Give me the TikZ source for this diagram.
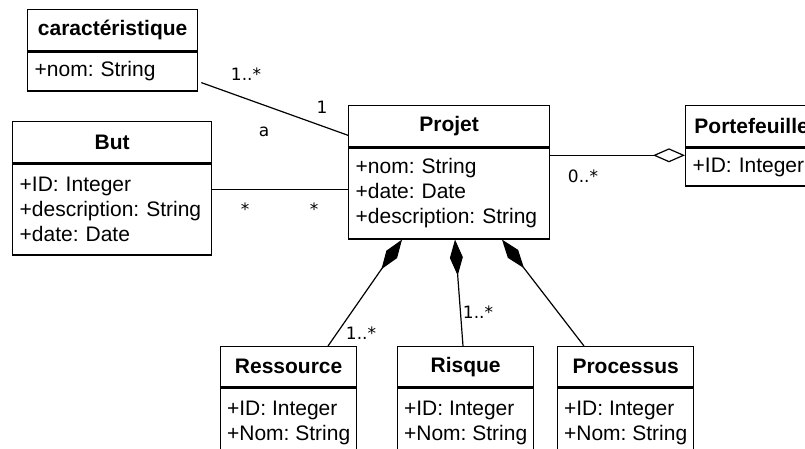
\documentclass[tikz,border=0pt]{standalone}
\usepackage{fontspec}
\setmainfont{Liberation Sans}
\newfontfamily\multfamily{DejaVu Sans}
\usetikzlibrary{arrows.meta,calc}
\frenchspacing
\newcommand{\attrfont}{\fontsize{21}{25}\selectfont\frenchspacing}
\newcommand{\headfont}{\bfseries\fontsize{21}{25}\selectfont}
\newcommand{\multfont}{\multfamily\fontsize{17}{20}\selectfont}

\begin{document}
\begin{tikzpicture}[x=1pt,y=-1pt,
	umlhead/.style={draw, line width=1.3pt, font=\headfont, inner sep=0pt, minimum height=41pt, anchor=north west},
	umlbody/.style={draw, line width=1.3pt, font=\attrfont, align=left, inner xsep=7pt, inner ysep=0pt, anchor=north west},
	smallbody/.style={umlbody, inner xsep=0pt, minimum width=136pt, minimum height=69pt},
	mult/.style={font=\multfont, inner sep=0pt},
	link/.style={line width=1.2pt},
	compo/.style={link, -{Diamond[length=36pt,width=13pt]}},
	aggreg/.style={link, -{Diamond[open,length=32pt,width=14pt]}}]
		\useasboundingbox (0,0) rectangle (805,448);
		\clip (0,0) rectangle (805,448);
		
		% classes
		\node[umlhead, minimum width=170pt] (carac) at (27,9) {caractéristique};
		\node[umlbody, text width=156pt, minimum height=39pt] (caracA) at (carac.south west) {+nom: String};
		
		\node[umlhead, minimum width=199pt] (but) at (12,121) {But};
		\node[umlbody, text width=185pt, minimum height=91pt] (butA) at (but.south west)
		{+ID: Integer\\+description: String\\+date: Date};
		
		\node[umlhead, minimum width=201pt] (projet) at (348,105) {Projet};
		\node[umlbody, text width=187pt, minimum height=91pt] (projetA) at (projet.south west)
		{+nom: String\\+date: Date\\+description: String};
		
		\node[umlhead, minimum width=132pt] (porte) at (685,105) {Portefeuille};
		\node[umlbody, text width=118pt, minimum height=38pt] (porteA) at (porte.south west) {+ID: Integer};
		
		\node[umlhead, minimum width=136pt, minimum height=40pt] (res) at (220,346) {Ressource};
		\node[smallbody] (resA) at (res.south west) {+ID: Integer\\+Nom: String};
		
		\node[umlhead, minimum width=136pt, minimum height=40pt] (risque) at (397,346) {Risque};
		\node[smallbody] (risqueA) at (risque.south west) {+ID: Integer\\+Nom: String};
		
		\node[umlhead, minimum width=136pt, minimum height=40pt] (proc) at (557,346) {Processus};
		\node[smallbody] (procA) at (proc.south west) {+ID: Integer\\+Nom: String};
		
		% associations
		\draw[link] ($(caracA.south east)+(3,-9)$) -- ($(projet.south west)+(0,-12)$);
		\draw[link] ($(butA.north east)+(0,26)$) coordinate (b1) -- (b1 -| projetA.west);
		\draw[aggreg] ($(projetA.north east)+(0,8)$) coordinate (p1) -- (p1 -| porteA.west);
		
		% compositions
		\draw[compo] ($(res.north west)+(108,0)$) -- ($(projetA.south west)+(54,0)$);
		\draw[compo] ($(risque.north west)+(66,0)$) -- ($(projetA.south west)+(107,0)$);
		\draw[compo] ($(proc.north west)+(27,0)$) -- ($(projetA.south west)+(154,0)$);
		
		% multiplicities
		\node[mult] (m1) at (246,74) {1..*};
		\node[mult] (m2) at (322,107) {1};
		\node[mult] (m3) at (264,132) {a};
		\node[mult] (m4) at (245,209) {*};
		\node[mult] (m5) at (314,209) {*};
		\node[mult] (m6) at (583,176) {0..*};
		\node[mult] (m7) at (361,333) {1..*};
		\node[mult] (m8) at (478,312) {1..*};
	\end{tikzpicture}
\end{document}
